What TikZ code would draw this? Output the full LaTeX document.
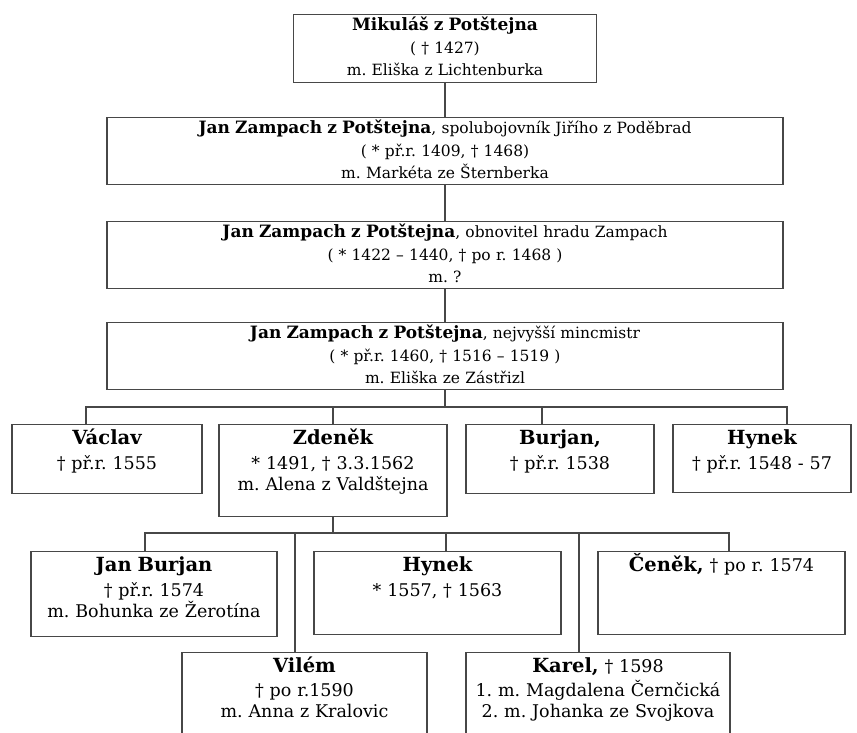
\documentclass[tikz,border=0pt]{standalone}
\usepackage{fontspec}
\setmainfont{DejaVu Serif}
\usepackage{tikz}
\usetikzlibrary{positioning}

\newcommand{\who}[1]{{\bfseries\fontsize{19.5}{21}\selectfont #1}}
\newcommand{\elderwho}[1]{{\bfseries\fontsize{17}{22.5}\selectfont #1}}

\begin{document}
\frenchspacing
\begin{tikzpicture}[
  x=1pt, y=-1pt,
  box/.style={draw=black!72, line width=1.2pt, anchor=north, align=center,
    inner xsep=0pt, inner ysep=0pt},
  elder/.style={box, font=\fontsize{15.5}{22.5}\selectfont, text height=16pt},
  child/.style={box, font=\fontsize{17.5}{21}\selectfont, text height=20pt},
  link/.style={draw=black!72, line width=1.2pt}
]
\clip (0,0) rectangle (857,733);
\fill[white] (0,0) rectangle (857,733);

% Elder generations
\node[elder, text width=303pt, text depth=52pt] (mikulas) at (445,14)
  {\elderwho{Mikuláš z Potštejna}\\( † 1427)\\m. Eliška z Lichtenburka};
\node[elder, text width=676pt, text depth=51pt] (zampach) at (445,117)
  {\elderwho{Jan Zampach z Potštejna}, spolubojovník Jiřího z Poděbrad\\( * př.r. 1409, † 1468)\\m. Markéta ze Šternberka};
\node[elder, text width=676pt, text depth=51pt] (obnovitel) at (445,221)
  {\elderwho{Jan Zampach z Potštejna}, obnovitel hradu Zampach\\( * 1422 – 1440, † po r. 1468 )\\m. ?};
\node[elder, text width=676pt, text depth=51pt] (mincmistr) at (445,322)
  {\elderwho{Jan Zampach z Potštejna}, nejvyšší mincmistr\\( * př.r. 1460, † 1516 – 1519 )\\m. Eliška ze Zástřizl};

% Sons
\node[child, text width=190pt, text depth=49pt] (vaclav) at (107,424)
  {\who{Václav}\\[4pt]† př.r. 1555};
\node[child, text width=228pt, text depth=72pt] (zdenek) at (333,424)
  {\who{Zdeněk}\\[4pt]* 1491, † 3.3.1562\\m. Alena z Valdštejna};
\node[child, text width=188pt, text depth=49pt] (burjan) at (560,424)
  {\who{Burjan,}\\[4pt]† př.r. 1538};
\node[child, text width=178pt, text depth=48pt] (hynek) at (762,424)
  {\who{Hynek}\\[4pt]† př.r. 1548 - 57};

% Grandsons
\node[child, text width=246pt, text depth=65pt] (janburjan) at (154,551)
  {\who{Jan Burjan}\\[4pt]† př.r. 1574\\m. Bohunka ze Žerotína};
\node[child, text width=247pt, text depth=63pt] (hynekml) at (437.5,551)
  {\who{Hynek}\\[4pt]* 1557, † 1563};
\node[child, text width=247pt, text depth=63pt] (cenek) at (721.5,551)
  {\who{Čeněk,} † po r. 1574};
\node[child, text width=245pt, text depth=100pt] (vilem) at (304.5,652)
  {\who{Vilém}\\[3pt]† po r.1590\\m. Anna z Kralovic};
\node[child, text width=264pt, text depth=100pt] (karel) at (598,652)
  {\who{Karel,} † 1598\\[3pt]1. m. Magdalena Černčická\\2. m. Johanka ze Svojkova};

% Line of descent
\draw[link] (mikulas.south) -- (zampach.north);
\draw[link] (zampach.south) -- (obnovitel.north);
\draw[link] (obnovitel.south) -- (mincmistr.north);

\coordinate (fork1) at (445,407);
\draw[link] (mincmistr.south) -- (fork1);
\draw[link] ([xshift=-21pt]vaclav.north) |- ([xshift=25pt]hynek.north |- fork1)
  -- ([xshift=25pt]hynek.north);
\draw[link] (zdenek.north) -- (zdenek.north |- fork1);
\draw[link] ([xshift=-18pt]burjan.north) -- ([xshift=-18pt]burjan.north |- fork1);

\coordinate (fork2) at (333,533);
\draw[link] (zdenek.south) -- (fork2);
\draw[link] ([xshift=-9pt]janburjan.north) |- ([xshift=7.5pt]cenek.north |- fork2)
  -- ([xshift=7.5pt]cenek.north);
\draw[link] ([xshift=8.5pt]hynekml.north) -- ([xshift=8.5pt]hynekml.north |- fork2);
\draw[link] ([xshift=-9.5pt]vilem.north) -- ([xshift=-9.5pt]vilem.north |- fork2);
\draw[link] ([xshift=-19pt]karel.north) -- ([xshift=-19pt]karel.north |- fork2);

\end{tikzpicture}
\end{document}
